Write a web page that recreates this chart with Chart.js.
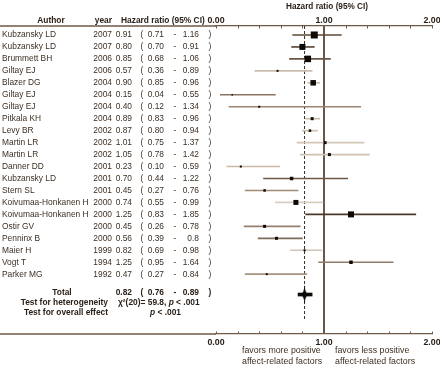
<!DOCTYPE html>
<html>
<head>
<meta charset="utf-8">
<script src="https://cdn.jsdelivr.net/npm/chart.js@4.4.0/dist/chart.umd.min.js"></script>
<style>
  html, body { margin: 0; padding: 0; background: #fff; }
  #wrap { width: 440px; height: 368px; }
</style>
</head>
<body>
<div id="wrap"><canvas id="forest" width="440" height="368"></canvas></div>
<script>
// studies, top to bottom
const authors = ['Kubzansky LD', 'Kubzansky LD', 'Brummett BH', 'Giltay EJ', 'Blazer DG', 'Giltay EJ', 'Giltay EJ',
  'Pitkala KH', 'Levy BR', 'Martin LR', 'Martin LR', 'Danner DD', 'Kubzansky LD', 'Stern SL',
  'Koivumaa-Honkanen H', 'Koivumaa-Honkanen H', 'Ostir GV', 'Penninx B', 'Maier H', 'Vogt T', 'Parker MG'];
const years = [2007, 2007, 2006, 2006, 2004, 2004, 2004, 2004, 2002, 2002, 2002, 2001, 2001, 2001, 2000, 2000, 2000, 2000, 1999, 1994, 1992];
// kept as printed text, plotted with Number()
const hazardRatio = ['0.91', '0.80', '0.85', '0.57', '0.90', '0.15', '0.40', '0.89', '0.87', '1.01', '1.05',
  '0.23', '0.70', '0.45', '0.74', '1.25', '0.45', '0.56', '0.82', '1.25', '0.47'];
const ciLow = ['0.71', '0.70', '0.68', '0.36', '0.85', '0.04', '0.12', '0.83', '0.80', '0.75', '0.78',
  '0.10', '0.44', '0.27', '0.55', '0.83', '0.26', '0.39', '0.69', '0.95', '0.27'];
const ciHigh = ['1.16', '0.91', '1.06', '0.89', '0.96', '0.55', '1.34', '0.96', '0.94', '1.37', '1.42',
  '0.59', '1.22', '0.76', '0.99', '1.85', '0.78', '0.8', '0.98', '1.64', '0.84'];
const totalHr = '0.82';
const totalLow = '0.76';
const totalHigh = '0.89';
const chiDf = 20;
const chiValue = '59.8';
const tickLabels = [0, 1, 2];

// look of each study mark (side of square in px, colour of the CI line)
const markerSide = [7, 6, 6.5, 2, 5.5, 1.5, 2, 3, 2.5, 3, 3, 2, 3.5, 2.5, 5, 6, 3, 3, 2, 3.5, 2];
const whiskerColor = ['#5c4838', '#5c4838', '#6a5646', '#cdbfae', '#cdbfae', '#8c7462', '#9a8472', '#cdbfae',
  '#cdbfae', '#d3c7b8', '#cfc2b2', '#c9b9a6', '#6e5848', '#a08a76', '#d8cdc0', '#4a3828', '#958070',
  '#806a58', '#d0c3b3', '#907a68', '#a59380'];

const FONT = "'Liberation Sans', Arial, sans-serif";
const axisColor = '#6e5a48';
const textColor = '#3d3024';
const boldColor = '#2b2119';
const markColor = '#0e0a07';

const rows = authors.map((_, i) => i + 1);
const totalRow = 22.7;
const heteroRow = 23.4;
const overallRow = 24.25;

function makeStar() {
  const c = document.createElement('canvas');
  c.width = 7; c.height = 20;
  const g = c.getContext('2d');
  g.fillStyle = markColor;
  g.beginPath();
  g.moveTo(3.5, 0);
  g.quadraticCurveTo(4, 8, 7, 10);
  g.quadraticCurveTo(4, 12, 3.5, 20);
  g.quadraticCurveTo(3, 12, 0, 10);
  g.quadraticCurveTo(3, 8, 3.5, 0);
  g.fill();
  return c;
}

function xTicks(position, h, pad) {
  return {
    type: 'linear',
    position: position,
    min: 0,
    max: 2,
    offset: false,
    grid: { display: false, drawTicks: false },
    border: { display: true, color: axisColor, width: 1.3 },
    ticks: {
      stepSize: 0.2,
      autoSkip: false,
      maxRotation: 0,
      padding: pad,
      color: boldColor,
      font: { family: FONT, size: 8.8, weight: 'bold' },
      callback: function (v) {
        const hit = tickLabels.find(t => Math.abs(t - v) < 1e-6);
        return hit === undefined ? '' : hit.toFixed(2);
      }
    },
    afterFit: function (s) {
      s.height = h;
      s.paddingLeft = 0;
      s.paddingRight = 0;
    }
  };
}

// table text, header rows and the small axis ticks
const tablePlugin = {
  id: 'forestTable',
  afterDraw(chart) {
    const ctx = chart.ctx;
    const area = chart.chartArea;
    const yS = chart.scales.y;
    const xS = chart.scales.x;
    ctx.save();

    // lines running under the table
    ctx.strokeStyle = axisColor;
    ctx.lineWidth = 1.3;
    ctx.beginPath();
    ctx.moveTo(0, area.top); ctx.lineTo(area.left, area.top);
    ctx.moveTo(0, area.bottom); ctx.lineTo(area.left, area.bottom);
    ctx.stroke();

    // minor ticks, pointing into the plot
    ctx.lineWidth = 1;
    ctx.beginPath();
    xS.ticks.forEach(t => {
      const px = Math.round(xS.getPixelForValue(t.value)) + 0.5;
      ctx.moveTo(px, area.top); ctx.lineTo(px, area.top + 2.5);
      ctx.moveTo(px, area.bottom); ctx.lineTo(px, area.bottom - 2.5);
    });
    ctx.stroke();

    ctx.textBaseline = 'middle';
    const bold = 'bold 8.4px ' + FONT;

    // headers
    ctx.fillStyle = boldColor;
    ctx.font = 'bold 8.2px ' + FONT;
    ctx.textAlign = 'center';
    ctx.fillText('Hazard ratio (95% CI)', 327, 7);
    ctx.font = bold;
    ctx.fillText('Author', 51, 21);
    ctx.textAlign = 'right';
    ctx.fillText('year', 112, 21);
    ctx.textAlign = 'left';
    ctx.fillText('Hazard ratio (95% CI)', 121, 21);

    function ciCols(y, hr, lo, hi) {
      ctx.textAlign = 'right';
      ctx.fillText(hr, 132, y);
      ctx.fillText(lo, 164, y);
      ctx.fillText(hi, 199, y);
      ctx.textAlign = 'center';
      ctx.fillText('(', 142, y);
      ctx.fillText('-', 175, y);
      ctx.fillText(')', 210, y);
    }

    // study rows
    ctx.fillStyle = textColor;
    ctx.font = '8.4px ' + FONT;
    rows.forEach((r, i) => {
      const y = yS.getPixelForValue(r);
      ctx.textAlign = 'left';
      ctx.fillText(authors[i], 2, y);
      ctx.textAlign = 'right';
      ctx.fillText(String(years[i]), 112, y);
      ciCols(y, hazardRatio[i], ciLow[i], ciHigh[i]);
    });

    // total and tests
    ctx.fillStyle = boldColor;
    ctx.font = bold;
    let y = yS.getPixelForValue(totalRow) - 1.5;
    ctx.textAlign = 'center';
    ctx.fillText('Total', 62, y);
    ciCols(y, totalHr, totalLow, totalHigh);

    y = yS.getPixelForValue(heteroRow);
    ctx.textAlign = 'right';
    ctx.fillText('Test for heterogeneity', 108, y);
    ctx.textAlign = 'left';
    let x = 118;
    const part1 = '\u03C7\u00B2(' + chiDf + ')= ' + chiValue + ', ';
    ctx.fillText(part1, x, y);
    x += ctx.measureText(part1).width;
    ctx.font = 'italic ' + bold;
    ctx.fillText('p', x, y);
    x += ctx.measureText('p').width;
    ctx.font = bold;
    ctx.fillText(' < .001', x, y);

    y = yS.getPixelForValue(overallRow);
    ctx.textAlign = 'right';
    ctx.fillText('Test for overall effect', 108, y);
    ctx.textAlign = 'left';
    x = 150;
    ctx.font = 'italic ' + bold;
    ctx.fillText('p', x, y);
    x += ctx.measureText('p').width;
    ctx.font = bold;
    ctx.fillText(' < .001', x, y);

    // favours notes under the axis
    ctx.fillStyle = textColor;
    ctx.font = '8.8px ' + FONT;
    ctx.textAlign = 'left';
    ctx.fillText('favors more positive', 242, 351);
    ctx.fillText('affect-related factors', 242, 362);
    ctx.fillText('favors less positive', 335, 351);
    ctx.fillText('affect-related factors', 335, 362);

    ctx.restore();
  }
};

const ctx = document.getElementById('forest').getContext('2d');
new Chart(ctx, {
  type: 'scatter',
  data: {
    datasets: [
      {
        // confidence intervals
        type: 'bar',
        indexAxis: 'y',
        grouped: false,
        barThickness: 1,
        data: rows.map((r, i) => ({ x: [Number(ciLow[i]), Number(ciHigh[i])], y: r })),
        backgroundColor: whiskerColor,
        order: 4
      },
      {
        // pooled interval
        type: 'bar',
        indexAxis: 'y',
        grouped: false,
        barThickness: 3,
        data: [{ x: [Number(totalLow), Number(totalHigh)], y: totalRow }],
        backgroundColor: markColor,
        order: 1
      },
      {
        // study estimates
        data: rows.map((r, i) => ({ x: Number(hazardRatio[i]), y: r })),
        pointStyle: 'rect',
        pointRadius: markerSide.map(s => s / Math.SQRT2),
        backgroundColor: markColor,
        borderWidth: 0,
        order: 2
      },
      {
        // pooled estimate
        data: [{ x: Number(totalHr), y: totalRow }],
        pointStyle: makeStar(),
        backgroundColor: markColor,
        order: 0
      },
      {
        // no effect line
        data: [{ x: 1, y: 0.25 }, { x: 1, y: 26 }],
        showLine: true,
        pointRadius: 0,
        borderColor: '#6b5545',
        borderWidth: 2,
        order: 5
      },
      {
        // pooled estimate reference line
        data: [{ x: Number(totalHr), y: 0.25 }, { x: Number(totalHr), y: 24.9 }],
        showLine: true,
        pointRadius: 0,
        borderColor: '#3a2c20',
        borderWidth: 1,
        borderDash: [3, 2],
        order: 5
      }
    ]
  },
  options: {
    responsive: false,
    animation: false,
    events: [],
    layout: { padding: { left: 216, right: 8, top: 0, bottom: 0 } },
    plugins: { legend: { display: false }, tooltip: { enabled: false } },
    scales: {
      x: xTicks('top', 26, 0),
      x2: xTicks('bottom', 34, 3),
      y: { type: 'linear', display: false, offset: false, min: 0.25, max: 26, reverse: true }
    }
  },
  plugins: [tablePlugin]
});
</script>
</body>
</html>
